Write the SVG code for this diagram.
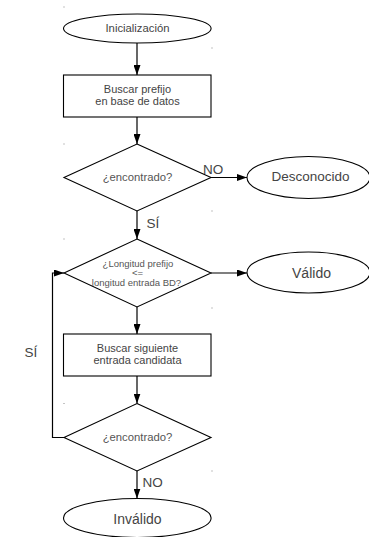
<svg xmlns="http://www.w3.org/2000/svg" width="369" height="537" viewBox="0 0 369 537">
  <defs>
    <marker id="arrow" markerUnits="userSpaceOnUse" markerWidth="10" markerHeight="7" refX="10" refY="3.5" orient="auto">
      <path d="M0,0 L10,3.5 L0,7 z" fill="#000"/>
    </marker>
  </defs>
  <style>
    .shape { fill: #fff; stroke: #000; stroke-width: 1.1; }
    .edge { fill: none; stroke: #000; stroke-width: 1.2; marker-end: url(#arrow); }
    text { font-family: "Liberation Sans", Arial, sans-serif; fill: #444; text-anchor: middle; }
    .t11 { font-size: 11px; }
    .t13 { font-size: 13.5px; }
    .tq { font-size: 11.3px; fill: #555; }
    .tsmall { font-size: 9.5px; fill: #555; }
    .lbl { font-size: 13.5px; text-anchor: start; }
    .tick { fill: #888; }
  </style>
  <rect width="369" height="537" fill="#fff"/>

  <!-- connectors and their labels -->
  <g id="connectors">
    <line class="edge" x1="137" y1="43" x2="137" y2="75"/>
    <line class="edge" x1="137" y1="117" x2="137" y2="144"/>
    <line class="edge" x1="211" y1="177.5" x2="247" y2="177.5"/>
    <line class="edge" x1="137" y1="211" x2="137" y2="239"/>
    <line class="edge" x1="211" y1="273" x2="247" y2="273"/>
    <line class="edge" x1="137" y1="307" x2="137" y2="334"/>
    <line class="edge" x1="137" y1="376" x2="137" y2="403.5"/>
    <path class="edge" d="M64,437.5 H52.5 V273 H64"/>
    <line class="edge" x1="137" y1="471" x2="137" y2="498.5"/>
    <text class="lbl" x="203" y="173.5">NO</text>
    <text class="lbl" x="146.5" y="228">SÍ</text>
    <text class="lbl" x="24.5" y="357">SÍ</text>
    <text class="lbl" x="142.5" y="487">NO</text>
  </g>

  <!-- corner ticks -->
  <g id="ticks">
    <rect class="tick" x="63.5" y="6.5" width="1" height="1"/>
    <rect class="tick" x="211.5" y="47.5" width="1" height="1"/>
    <rect class="tick" x="63.5" y="143.5" width="1" height="1"/>
    <rect class="tick" x="211.5" y="210.5" width="1" height="1"/>
    <rect class="tick" x="63.5" y="238.5" width="1" height="1"/>
    <rect class="tick" x="211.5" y="307.5" width="1" height="1"/>
    <rect class="tick" x="63.5" y="403" width="1" height="1"/>
    <rect class="tick" x="211.5" y="470.5" width="1" height="1"/>
  </g>

  <g id="inicializacion">
    <ellipse class="shape" cx="137.3" cy="28.5" rx="73.8" ry="14.5"/>
    <text class="t11" x="137.5" y="32.3" style="font-size:11.3px">Inicialización</text>
  </g>

  <g id="buscar-prefijo">
    <rect class="shape" x="63.5" y="75" width="147.5" height="42"/>
    <text class="t11" x="137.5" y="92.5">Buscar prefijo</text>
    <text class="t11" x="137.5" y="105">en base de datos</text>
  </g>

  <g id="encontrado-1">
    <polygon class="shape" points="137,144 211,177.5 137,211 64,177.5"/>
    <text class="tq" x="137.5" y="181">¿encontrado?</text>
  </g>

  <g id="desconocido">
    <ellipse class="shape" cx="308.5" cy="177.5" rx="61.5" ry="21"/>
    <text class="t13" x="310.5" y="181">Desconocido</text>
  </g>

  <g id="longitud">
    <polygon class="shape" points="137,239 211,273 137,307 64,273"/>
    <text class="tsmall" x="138" y="266.5">¿Longitud prefijo</text>
    <text class="tsmall" x="137.5" y="276">&lt;=</text>
    <text class="tsmall" x="136.5" y="285.5">longitud entrada BD?</text>
  </g>

  <g id="valido">
    <ellipse class="shape" cx="308.5" cy="272.5" rx="61.5" ry="20.5"/>
    <text class="t13" x="311.5" y="278" style="font-size:14px">Válido</text>
  </g>

  <g id="buscar-siguiente">
    <rect class="shape" x="63.5" y="334" width="147.5" height="42"/>
    <text class="t11" x="137.5" y="351.5">Buscar siguiente</text>
    <text class="t11" x="137.5" y="364">entrada candidata</text>
  </g>

  <g id="encontrado-2">
    <polygon class="shape" points="137,403.5 211,437.5 137,471 64,437.5"/>
    <text class="tq" x="137.5" y="441">¿encontrado?</text>
  </g>

  <g id="invalido">
    <ellipse class="shape" cx="137.3" cy="518" rx="73.8" ry="19.5"/>
    <text class="t13" x="137.5" y="524" style="font-size:14px">Inválido</text>
  </g>
</svg>
